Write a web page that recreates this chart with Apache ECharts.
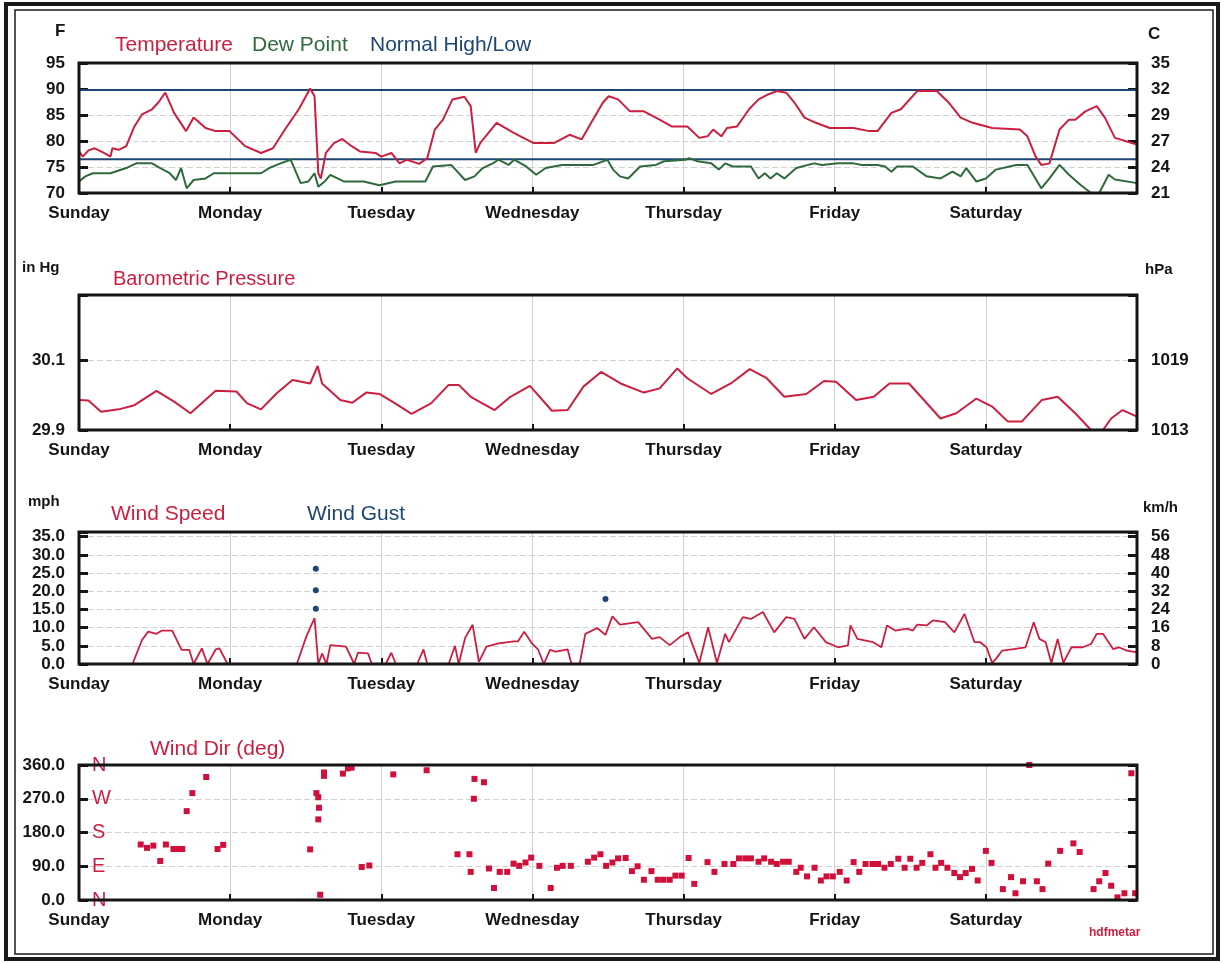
<!DOCTYPE html>
<html><head><meta charset="utf-8">
<script src="https://cdn.jsdelivr.net/npm/echarts@6/dist/echarts.min.js"></script>
<style>html,body{margin:0;padding:0;background:#fff}#c{width:1225px;height:963px}</style>
</head><body><div id="c"></div>
<script>
// ---- data (x = hours since Sunday 00:00) ----
const dayLabels = ['Sunday','Monday','Tuesday','Wednesday','Thursday','Friday','Saturday',''];
const normalHigh = 89.8;
const normalLow = 76.5;
const temperature = [[0,78],[0.6,77],[1.5,78.2],[2.5,78.6],[3.8,77.8],[5,77],[5.3,78.6],[6.3,78.3],[7.5,79],[8.8,82.8],[10,85.1],[11.6,86.1],[12.6,87.4],[13.7,89.3],[15.1,85.4],[17,81.9],[18.2,84.5],[20.1,82.5],[21.7,81.9],[23.9,81.9],[26.4,79],[28.9,77.7],[30.8,78.6],[32.7,82.2],[34.9,86.1],[36.7,90.1],[37.4,88.6],[38,73.8],[38.4,72.8],[39.2,77.7],[40.5,79.6],[41.8,80.4],[43.3,79],[44.6,78],[47.1,77.7],[48,77],[49.6,77.7],[50.9,75.7],[52.1,76.4],[54,75.6],[55.3,76.7],[56.5,82.2],[57.8,84.1],[59.3,88],[61.2,88.5],[62.2,86.7],[63,77.7],[63.7,79.6],[66.3,83.5],[69.1,81.5],[72.2,79.6],[75.4,79.6],[77.9,81.2],[79.8,80.3],[81.6,84.1],[83.2,87.4],[84.1,88.6],[85.6,88],[87.5,85.7],[89.7,85.7],[92.2,84.1],[94.1,82.8],[96.6,82.8],[98.5,80.6],[99.8,80.9],[100.7,82.2],[102,80.9],[102.9,82.5],[104.5,82.8],[106.4,86.1],[107.9,88],[109.5,89],[110.8,89.6],[112.3,89.3],[113.6,87.4],[115.2,84.5],[117,83.5],[119.2,82.5],[123,82.5],[125.5,81.9],[126.8,81.9],[129,85.4],[130.5,86.1],[133.1,89.6],[136.2,89.6],[138.1,87.4],[140,84.5],[141.9,83.5],[145,82.5],[149.4,82.2],[150.6,80.9],[151.9,77],[152.8,75.4],[154.1,75.7],[155.7,82.2],[157.2,84.1],[158.2,84.1],[159.8,85.7],[161.6,86.7],[162.9,84.5],[164.5,80.6],[166.4,79.9],[168,79.3]];
const dewPoint = [[0,72.2],[1,73.2],[2.2,73.8],[5,73.8],[7.5,74.8],[9.1,75.7],[11.6,75.7],[12.9,74.8],[14.4,73.8],[15.4,72.5],[16.2,74.8],[17.1,70.9],[18.2,72.5],[20.1,72.8],[21.4,73.8],[28.9,73.8],[30.2,74.8],[32,75.7],[33.6,76.4],[35.2,71.9],[36.4,72.2],[37.4,73.8],[38,71.2],[39,72.2],[39.9,73.5],[42.1,72.2],[45.2,72.2],[47.7,71.5],[50.3,72.2],[55,72.2],[56.2,75.1],[59.1,75.4],[61.3,72.5],[62.8,73.2],[64.1,74.8],[65.7,75.7],[66.6,76.4],[68.2,75.4],[69.1,76.4],[71,75.1],[72.6,73.5],[74.1,74.8],[76.7,75.4],[81.7,75.4],[83.9,76.4],[84.8,74.5],[85.9,73.2],[87.2,72.8],[89.1,75.1],[91.6,75.4],[92.9,76.1],[96.3,76.4],[96.9,76.7],[98.2,76.1],[100.4,75.7],[101.6,74.5],[102.6,75.7],[103.8,75.1],[106.7,75.1],[107.9,72.8],[108.9,73.8],[109.8,72.8],[110.8,73.8],[112,72.8],[113.9,74.8],[116.7,75.7],[118,75.4],[120.5,75.7],[123,75.7],[124.3,75.4],[126.8,75.4],[128,75.1],[129,74.1],[129.9,75.1],[132.4,75.1],[134.6,73.2],[136.8,72.8],[138.7,74.1],[140,73.2],[140.9,74.8],[142.5,72.2],[144,72.8],[145.6,74.5],[148.8,75.4],[150.6,75.4],[152.8,70.9],[154.1,72.8],[155.7,75.4],[157.2,73.5],[159.1,71.5],[160.7,70],[162,70],[163.5,73.5],[164.5,72.6],[168,71.9]];
const pressure = [[0,29.986],[1.5,29.984],[3.5,29.952],[6.3,29.959],[8.8,29.971],[12.3,30.012],[15.1,29.981],[17.7,29.948],[21.7,30.012],[25,30.01],[26.7,29.976],[28.9,29.959],[31.4,30.005],[33.9,30.043],[36.7,30.033],[37.9,30.083],[38.6,30.033],[41.5,29.986],[43.4,29.978],[45.6,30.007],[47.7,30.003],[50.2,29.976],[52.8,29.946],[55.9,29.976],[58.7,30.029],[60.3,30.029],[62.2,29.995],[66,29.957],[68.5,29.995],[71.6,30.026],[75.1,29.955],[77.6,29.957],[80.1,30.024],[82.9,30.066],[86,30.033],[89.7,30.007],[92.2,30.019],[95,30.076],[96.6,30.048],[100.4,30.003],[103.5,30.033],[106.5,30.074],[109.2,30.048],[112,29.995],[115.5,30.003],[118.3,30.04],[120.2,30.038],[123.4,29.986],[126.2,29.995],[128.7,30.033],[131.8,30.033],[136.8,29.933],[139.3,29.948],[142.5,29.99],[145,29.967],[147.5,29.924],[149.7,29.924],[152.9,29.986],[155.4,29.995],[158.2,29.948],[160.7,29.9],[162.6,29.9],[163.9,29.933],[165.7,29.957],[168,29.938]];
const windSpeed = [[0,0],[8.5,0],[10,6.6],[11,8.9],[12.3,8.3],[13.2,9.2],[14.8,9.2],[16.3,3.9],[17.5,3.9],[18.2,0],[19.5,4.3],[20.4,0],[21.7,4],[22.3,4.3],[23.6,0],[34.6,0],[36.1,7.6],[37.4,12.6],[38,0],[38.6,2.9],[39.3,0],[39.9,5.2],[42.4,4.8],[43.7,0],[44.3,3.1],[45.9,2.9],[46.5,0],[48.7,0],[49.6,3.1],[50.3,0],[53.7,0],[54.7,4],[55.3,0],[58.7,0],[59.7,5],[60.3,0],[61.3,7.1],[62.5,10.8],[63.5,0.6],[64.7,4.8],[66.6,5.7],[69.1,6.2],[69.7,6.2],[70.7,8.9],[71.9,5.7],[72.9,4],[73.8,0],[74.8,3.9],[75.7,3.4],[77.6,4],[78.2,0],[79.5,0],[80.4,8.3],[82.3,9.9],[83.6,8],[84.7,13.1],[85.9,10.8],[88.8,11.5],[91,6.9],[92.2,7.4],[93.8,5.2],[95.4,7.4],[96.7,8.7],[98.5,0.3],[99.9,10.1],[101.3,0.3],[102.6,8.3],[103.2,6],[105.4,12.9],[106.7,12.4],[108.6,14.3],[110.4,8.7],[112.3,12.9],[113.6,12.4],[115.2,6.9],[116.7,10.1],[118.6,6],[120.5,4.6],[122.1,5.1],[122.5,10.6],[123.6,6.9],[126.1,6],[127.4,4.6],[128.3,10.6],[129.6,9.2],[131.5,9.7],[132.4,9.2],[133.1,10.8],[134.6,10.6],[135.6,12],[137.5,11.5],[139,8.7],[140.6,13.8],[142.2,6],[143.1,6],[144.1,4.6],[145,0.3],[145.6,1.4],[146.6,3.7],[148.4,4.1],[150.3,4.6],[151.6,11.5],[152.5,6.9],[153.5,6],[154.4,0.3],[155.4,6.9],[156.3,0.3],[156.9,2.3],[157.6,4.6],[159.4,4.6],[160.7,5.5],[161.6,8.3],[162.6,8.3],[164.2,4.1],[165.1,4.6],[166.4,3.7],[168,3.2]];
const windGust = [[37.6,26.2],[37.6,20.3],[37.6,15.2],[83.6,17.9]];
const windDir = [[9.8,148],[10.8,139],[11.8,145],[12.9,104],[13.8,148],[15,136],[15.7,136],[16.4,136],[17.1,237],[18,285],[20.2,328],[22,136],[22.9,147],[36.7,135],[37.7,285],[38,274],[38.1,246],[38,215],[38.3,14],[38.9,331],[38.9,340],[41.9,337],[42.7,351],[43.3,353],[44.9,88],[46.1,92],[49.9,335],[55.2,346],[62.8,323],[64.3,314],[62.7,270],[60.1,122],[62,122],[62.2,75],[65.1,84],[65.9,32],[66.8,75],[68,75],[69,97],[69.9,91],[70.9,100],[71.8,113],[73.1,91],[74.9,32],[75.9,86],[76.8,91],[78.1,91],[80.8,102],[81.8,113],[82.8,122],[83.7,91],[84.7,100],[85.6,111],[86.8,112],[87.8,77],[88.7,90],[89.7,54],[90.9,77],[91.9,54],[92.8,54],[93.8,54],[94.7,65],[95.7,65],[96.8,112],[97.7,43],[99.8,101],[100.9,75],[102.5,96],[103.9,96],[104.8,111],[105.8,111],[106.7,111],[107.9,102],[108.8,111],[109.9,102],[110.8,96],[111.8,102],[112.7,102],[113.9,75],[114.6,86],[115.6,63],[116.8,86],[117.8,52],[118.7,63],[119.7,63],[120.8,75],[121.9,52],[123,101],[123.9,75],[124.9,96],[126,96],[126.9,96],[127.9,86],[128.9,96],[130.1,110],[131.1,86],[132,110],[133,86],[133.9,99],[135.2,122],[136,86],[136.9,99],[137.9,86],[139,72],[139.9,61],[140.8,72],[141.8,83],[142.7,52],[144,131],[144.9,99],[146.7,29],[148,61],[148.7,18],[149.9,50],[150.9,360],[152.1,50],[153,29],[153.9,97],[155.8,131],[157.9,151],[158.9,128],[161.1,29],[162,50],[163,72],[163.9,38],[164.9,7],[166,18],[167.1,338],[167.7,18]];

// ---- styling ----
const RED = '#cc1f40', GREEN = '#2f6a3c', NAVY = '#1d4673', INK = '#151515';
const FONT = '"Liberation Sans", Arial, sans-serif';
const W = 1225;
const gridDefs = [
  {left: 79, right: 88, top: 63, height: 130},
  {left: 79, right: 88, top: 295, height: 135},
  {left: 79, right: 88, top: 532, height: 132},
  {left: 79, right: 88, top: 765, height: 135}
];
const grids = gridDefs.map(g => Object.assign({show: false, containLabel: false}, g));
const xAxes = gridDefs.map((g, i) => ({
  type: 'value', gridIndex: i, min: 0, max: 168, interval: 24,
  axisLine: {show: false},
  axisTick: {show: true, inside: true, length: 6, lineStyle: {color: INK, width: 2}},
  axisLabel: {formatter: v => dayLabels[Math.round(v / 24)] || '', color: INK, fontFamily: FONT, fontWeight: 'bold', fontSize: 17, margin: 12, showMaxLabel: true},
  splitLine: {show: true, lineStyle: {color: '#cfcfcf', width: 1}}
}));
function yAx(i, pos, min, max, interval, fmt, split, extra) {
  return Object.assign({
    type: 'value', gridIndex: i, position: pos, min: min, max: max, interval: interval,
    axisLine: {show: false},
    axisTick: {show: true, inside: true, length: 9, lineStyle: {color: INK, width: 3}},
    axisLabel: {formatter: fmt, color: INK, fontFamily: FONT, fontWeight: 'bold', fontSize: 17, margin: 14, showMaxLabel: true},
    splitLine: {show: split, lineStyle: {color: '#d2d2d2', width: 1, type: [6, 3]}}
  }, extra || {});
}
const compass = v => ({0: 'N', 90: 'E', 180: 'S', 270: 'W', 360: 'N'})[Math.round(v)] || '';
const yAxes = [
  yAx(0, 'left', 70, 95, 5, v => String(Math.round(v)), true),
  yAx(0, 'right', 70, 95, 5, v => String(Math.round((v - 32) * 5 / 9)), false),
  yAx(1, 'left', 29.9, 30.286, 0.2, v => (v > 30.2 ? '' : v.toFixed(1)), true),
  yAx(1, 'right', 29.9, 30.286, 0.2, v => (v > 30.2 ? '' : String(Math.round(v * 33.8639))), false),
  yAx(2, 'left', 0, 36.3, 5, v => (v > 35.5 ? '' : v.toFixed(1)), true),
  yAx(2, 'right', 0, 36.3, 5, v => (v > 35.5 ? '' : String(Math.round(v * 1.609))), false),
  yAx(3, 'left', 0, 360, 90, v => v.toFixed(1), true),
  yAx(3, 'right', 0, 360, 90, v => '', false),
  yAx(3, 'left', 0, 360, 90, compass, false,
    {axisTick: {show: false}, axisLabel: {inside: true, margin: 13, color: RED, fontFamily: FONT, fontSize: 20, formatter: compass}})
];
const lineBase = {type: 'line', showSymbol: false, symbol: 'none', animation: false};
const series = [
  Object.assign({}, lineBase, {name: 'Normal High', xAxisIndex: 0, yAxisIndex: 0, data: [[0, normalHigh], [168, normalHigh]], lineStyle: {color: NAVY, width: 2}}),
  Object.assign({}, lineBase, {name: 'Normal Low', xAxisIndex: 0, yAxisIndex: 0, data: [[0, normalLow], [168, normalLow]], lineStyle: {color: NAVY, width: 2}}),
  Object.assign({}, lineBase, {name: 'Dew Point', xAxisIndex: 0, yAxisIndex: 0, data: dewPoint, lineStyle: {color: GREEN, width: 2}}),
  Object.assign({}, lineBase, {name: 'Temperature', xAxisIndex: 0, yAxisIndex: 0, data: temperature, lineStyle: {color: RED, width: 2}}),
  Object.assign({}, lineBase, {name: 'Pressure', xAxisIndex: 1, yAxisIndex: 2, data: pressure, lineStyle: {color: RED, width: 2}}),
  Object.assign({}, lineBase, {name: 'Wind Speed', xAxisIndex: 2, yAxisIndex: 4, data: windSpeed, lineStyle: {color: RED, width: 1.8}}),
  {type: 'scatter', name: 'Wind Gust', xAxisIndex: 2, yAxisIndex: 4, data: windGust, symbol: 'circle', symbolSize: 6, itemStyle: {color: NAVY, opacity: 1}, animation: false},
  {type: 'scatter', name: 'Wind Dir', xAxisIndex: 3, yAxisIndex: 6, data: windDir, symbol: 'rect', symbolSize: 6, itemStyle: {color: '#d0103a', opacity: 1}, animation: false}
];
function txt(x, y, s, color, size, weight) {
  return {type: 'text', x: x, y: y, silent: true, z: 100, style: {text: s, fill: color, font: (weight || 'normal') + ' ' + size + 'px ' + FONT, textVerticalAlign: 'middle'}};
}
const frames = gridDefs.map(g => ({type: 'rect', silent: true, z: 90,
  shape: {x: g.left, y: g.top, width: W - g.left - g.right, height: g.height},
  style: {fill: 'none', stroke: INK, lineWidth: 3}}));
const graphics = [
  {type: 'rect', shape: {x: 6, y: 4, width: 1212, height: 955}, style: {fill: 'none', stroke: '#1a1a1a', lineWidth: 4}, silent: true},
  {type: 'rect', shape: {x: 15, y: 10, width: 1198, height: 944}, style: {fill: 'none', stroke: '#1a1a1a', lineWidth: 1.5}, silent: true},
  ...frames,
  txt(55, 31, 'F', INK, 17, 'bold'),
  txt(1148, 34, 'C', INK, 17, 'bold'),
  txt(115, 45, 'Temperature', RED, 21),
  txt(252, 45, 'Dew Point', GREEN, 21),
  txt(370, 45, 'Normal High/Low', NAVY, 21),
  txt(22, 268, 'in Hg', INK, 15, 'bold'),
  txt(113, 279, 'Barometric Pressure', RED, 20),
  txt(1145, 270, 'hPa', INK, 15, 'bold'),
  txt(28, 502, 'mph', INK, 15, 'bold'),
  txt(111, 514, 'Wind Speed', RED, 21),
  txt(307, 514, 'Wind Gust', NAVY, 21),
  txt(1143, 508, 'km/h', INK, 15, 'bold'),
  txt(150, 749, 'Wind Dir (deg)', RED, 21),
  txt(1089, 933, 'hdfmetar', RED, 12, 'bold')
];
const chart = echarts.init(document.getElementById('c'), null, {renderer: 'canvas'});
chart.setOption({
  animation: false,
  backgroundColor: '#fff',
  grid: grids, xAxis: xAxes, yAxis: yAxes, series: series, graphic: graphics
});
</script></body></html>
